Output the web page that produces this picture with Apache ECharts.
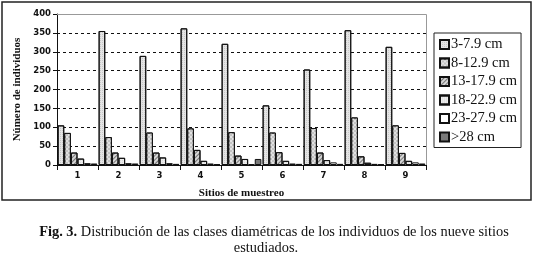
<!DOCTYPE html>
<html><head><meta charset="utf-8">
<script src="https://cdn.jsdelivr.net/npm/echarts@6/dist/echarts.min.js"></script>
<style>html,body{margin:0;padding:0;background:#fff}#c{width:533px;height:254px}</style>
</head><body><div id="c"></div>
<script>
var sites = ['1','2','3','4','5','6','7','8','9'];
var yTicks = [0,50,100,150,200,250,300,350,400];
var classNames = ['3-7.9 cm','8-12.9 cm','13-17.9 cm','18-22.9 cm','23-27.9 cm','>28 cm'];
var c3to8   = [105,355,289,362,321,158,253,357,313];
var c8to13  = [85, 74, 86, 97, 87, 86, 98,126,105];
var c13to18 = [33, 33, 33, 40, 25, 34, 33, 23, 32];
var c18to23 = [17, 19, 20, 11, 16, 11, 13,  6, 11];
var c23to28 = [ 5,  5,  5,  4,  2,  4,  7,  3,  7];
var c28up   = [ 4,  4,  3,  2, 16,  3,  3,  2,  4];
var values = [c3to8,c8to13,c13to18,c18to23,c23to28,c28up];
var fills = ['#e4e4e4','#c4c4c4','#d6d6d6','#ececec','#ffffff','#7a7a7a'];
var decals = [
  {symbol:'rect',dashArrayX:[1,1],dashArrayY:[1,1],color:'rgba(0,0,0,0.12)'},
  {symbol:'rect',dashArrayX:[[2,2],[0,2,2,0]],dashArrayY:[2,0],color:'rgba(255,255,255,0.5)'},
  {symbol:'rect',dashArrayX:[1,0],dashArrayY:[1,2],rotation:-Math.PI/4,color:'rgba(0,0,0,0.45)'},
  {symbol:'rect',dashArrayX:[1,1],dashArrayY:[1,1],color:'rgba(0,0,0,0.08)'},
  null,
  null
];
var chart = echarts.init(document.getElementById('c'), null, {renderer:'canvas'});
var series = classNames.map(function(n,i){
  var s = {name:n,type:'bar',data:values[i],barGap:'0%',barCategoryGap:'3%',
    itemStyle:{color:fills[i],borderColor:'#111',borderWidth:1},emphasis:{disabled:true}};
  if(decals[i]) s.itemStyle.decal = decals[i];
  return s;
});
chart.setOption({
  animation:false,
  backgroundColor:'#fff',
  graphic:[
    {type:'rect',shape:{x:2,y:2,width:529,height:198},style:{fill:'none',stroke:'#222',lineWidth:1.5},silent:true},
    {type:'polyline',shape:{points:[[57,14.5],[426.5,14.5],[426.5,165]]},style:{fill:'none',stroke:'#999',lineWidth:1},silent:true,z:100},
    {type:'text',x:274,y:232,silent:true,
      style:{text:'{b|Fig. 3.} Distribución de las clases diamétricas de los individuos de los nueve sitios',
        align:'center',verticalAlign:'middle',fontFamily:'Liberation Serif',fontSize:14.4,fill:'#111',
        rich:{b:{fontFamily:'Liberation Serif',fontSize:14.4,fontWeight:'bold',fill:'#111'}}}},
    {type:'text',x:266,y:248,silent:true,
      style:{text:'estudiados.',align:'center',verticalAlign:'middle',fontFamily:'Liberation Serif',fontSize:14.4,fill:'#111'}}
  ],
  legend:{
    orient:'vertical',left:434,top:33,width:91,
    data:classNames,
    itemWidth:9,itemHeight:9,itemGap:3.5,
    padding:[4,4,3,5],
    borderColor:'#222',borderWidth:1,
    textStyle:{fontFamily:'Liberation Serif',fontSize:14.5,color:'#111',padding:[0,0,0,-3]},
    icon:'rect'
  },
  grid:{left:57,right:107,top:14,bottom:89,containLabel:false},
  xAxis:{
    type:'category',data:sites,
    name:'Sitios de muestreo',nameLocation:'middle',nameGap:23,
    nameTextStyle:{fontFamily:'Liberation Serif',fontSize:11,fontWeight:'bold',color:'#111'},
    axisLine:{lineStyle:{color:'#111',width:1}},
    axisTick:{show:true,length:5,lineStyle:{color:'#111'}},
    axisLabel:{fontFamily:'DejaVu Sans',fontSize:8.5,fontWeight:'bold',color:'#111',margin:6}
  },
  yAxis:{
    type:'value',min:0,max:400,interval:50,
    name:'Número de individuos',nameLocation:'middle',nameGap:29,
    nameTextStyle:{fontFamily:'Liberation Serif',fontSize:11,fontWeight:'bold',color:'#111'},
    axisLine:{show:true,lineStyle:{color:'#111',width:1}},
    axisTick:{show:true,length:4,lineStyle:{color:'#111'}},
    axisLabel:{fontFamily:'DejaVu Sans',fontSize:8.5,fontWeight:'bold',color:'#111',margin:6,
      formatter:function(v){return yTicks.indexOf(v)>=0?String(v):'';}},
    splitLine:{show:true,lineStyle:{color:'#111',type:[3,3],width:1}}
  },
  series:series
});
</script></body></html>
